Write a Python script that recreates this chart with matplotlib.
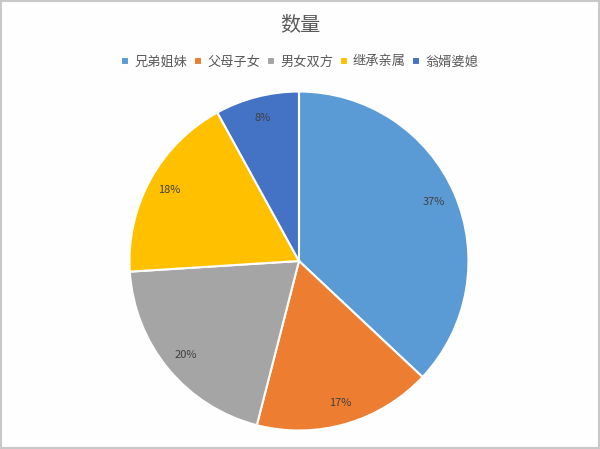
import matplotlib.pyplot as plt
from matplotlib.patches import Rectangle

plt.rcParams['font.family'] = ['Noto Sans CJK SC', 'DejaVu Sans']

# 数据
labels = ['兄弟姐妹', '父母子女', '男女双方', '继承亲属', '翁婿婆媳']
values = [37, 17, 20, 18, 8]
colors = ['#5B9BD5', '#ED7D31', '#A5A5A5', '#FFC000', '#4472C4']

fig = plt.figure(figsize=(6, 4.49), dpi=100)
fig.patch.set_facecolor('#FEFEFE')

ax = fig.add_axes([0.2158, 0.0412, 0.565, 0.755])
wedges, texts, autotexts = ax.pie(
    values, colors=colors, startangle=90, counterclock=False,
    autopct='%d%%', pctdistance=0.87,
    wedgeprops=dict(edgecolor='white', linewidth=1.5),
    textprops=dict(color='#404040', fontsize=8))
ax.set_aspect('equal')
ax.set_xlim(-1, 1)
ax.set_ylim(-1, 1)

fig.text(0.5, 0.945, '数量', ha='center', va='center', fontsize=14.5, color='#595959')

leg = fig.legend(wedges, labels, loc='center', bbox_to_anchor=(0.5, 0.862),
                 ncol=5, frameon=False, fontsize=9.5, handlelength=0.6,
                 handleheight=0.6, handletextpad=0.4, columnspacing=0.5)
for t in leg.get_texts():
    t.set_color('#595959')

# 外框
fig.patches.append(Rectangle((0.002, 0.003), 0.996, 0.994, transform=fig.transFigure,
                             fill=False, edgecolor='#C8C8C8', linewidth=1.5))

plt.savefig('out.png', dpi=100)
